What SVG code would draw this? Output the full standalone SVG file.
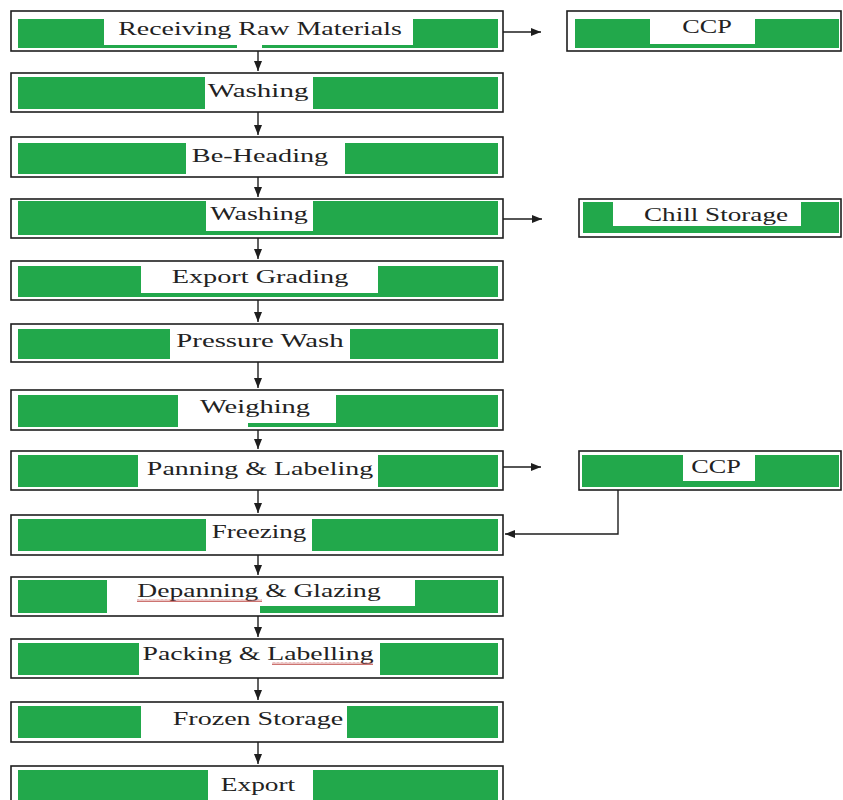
<svg xmlns="http://www.w3.org/2000/svg" width="843" height="800" viewBox="0 0 843 800">
  <defs>
    <style>
      .box { fill: #ffffff; stroke: #1e1e1e; stroke-width: 1.6; }
      .g { fill: #22a84b; }
      .w { fill: #ffffff; }
      .t { font-family: "Liberation Serif", "Times New Roman", serif; font-size: 18px; fill: #222222; text-anchor: middle; }
      .link { fill: none; stroke: #1e1e1e; stroke-width: 1.4; }
      .squig { fill: url(#squiggle); }
    </style>
    <marker id="arrow" markerUnits="userSpaceOnUse" markerWidth="10" markerHeight="8" refX="10" refY="4" orient="auto">
      <path d="M0,0 L10,4 L0,8 z" fill="#1e1e1e"/>
    </marker>
    <pattern id="squiggle" patternUnits="userSpaceOnUse" width="4" height="3">
      <polyline points="0,2.5 1,0.5 2,2.5 3,0.5 4,2.5" fill="none" stroke="#c0504d" stroke-width="0.8"/>
    </pattern>
  </defs>

  <!-- main process column; labels are widened with a horizontal scale -->
  <g id="receiving">
    <rect class="box" x="11" y="11" width="492" height="40"/>
    <rect class="g" x="18" y="19" width="480" height="29"/>
    <rect class="w" x="104" y="19" width="309" height="26"/>
    <rect class="w" x="237" y="45" width="25" height="4"/>
    <text class="t" transform="translate(260,35) scale(1.55,1)" textLength="183" lengthAdjust="spacingAndGlyphs">Receiving Raw Materials</text>
  </g>
  <g id="washing1">
    <rect class="box" x="11" y="73" width="492" height="39"/>
    <rect class="g" x="18" y="77" width="480" height="32"/>
    <rect class="w" x="205" y="77" width="108" height="32"/>
    <text class="t" transform="translate(258,97) scale(1.55,1)" textLength="65" lengthAdjust="spacingAndGlyphs">Washing</text>
  </g>
  <g id="beheading">
    <rect class="box" x="11" y="137" width="492" height="40"/>
    <rect class="g" x="18" y="143" width="480" height="31"/>
    <rect class="w" x="186" y="143" width="159" height="31"/>
    <text class="t" transform="translate(260,162) scale(1.55,1)" textLength="88" lengthAdjust="spacingAndGlyphs">Be-Heading</text>
  </g>
  <g id="washing2">
    <rect class="box" x="11" y="199" width="492" height="39"/>
    <rect class="g" x="18" y="201" width="480" height="34"/>
    <rect class="w" x="206" y="201" width="107" height="30"/>
    <text class="t" transform="translate(259,220) scale(1.55,1)" textLength="63" lengthAdjust="spacingAndGlyphs">Washing</text>
  </g>
  <g id="grading">
    <rect class="box" x="11" y="261" width="492" height="39"/>
    <rect class="g" x="18" y="266" width="480" height="31"/>
    <rect class="w" x="141" y="266" width="237" height="27"/>
    <text class="t" transform="translate(260,283) scale(1.55,1)" textLength="114" lengthAdjust="spacingAndGlyphs">Export Grading</text>
  </g>
  <g id="pressure-wash">
    <rect class="box" x="11" y="324" width="492" height="38"/>
    <rect class="g" x="18" y="329" width="480" height="30"/>
    <rect class="w" x="170" y="329" width="180" height="30"/>
    <text class="t" transform="translate(260,347) scale(1.55,1)" textLength="108" lengthAdjust="spacingAndGlyphs">Pressure Wash</text>
  </g>
  <g id="weighing">
    <rect class="box" x="11" y="390" width="492" height="40"/>
    <rect class="g" x="18" y="395" width="480" height="32"/>
    <rect class="w" x="178" y="395" width="158" height="28"/>
    <rect class="w" x="178" y="423" width="70" height="4"/>
    <text class="t" transform="translate(255,413) scale(1.55,1)" textLength="71" lengthAdjust="spacingAndGlyphs">Weighing</text>
  </g>
  <g id="panning">
    <rect class="box" x="11" y="451" width="492" height="39"/>
    <rect class="g" x="18" y="455" width="480" height="32"/>
    <rect class="w" x="138" y="455" width="240" height="32"/>
    <text class="t" transform="translate(260,475) scale(1.55,1)" textLength="146" lengthAdjust="spacingAndGlyphs">Panning &amp; Labeling</text>
  </g>
  <g id="freezing">
    <rect class="box" x="11" y="515" width="492" height="40"/>
    <rect class="g" x="18" y="519" width="480" height="32"/>
    <rect class="w" x="206" y="519" width="106" height="32"/>
    <text class="t" transform="translate(259,538) scale(1.55,1)" textLength="61" lengthAdjust="spacingAndGlyphs">Freezing</text>
  </g>
  <g id="depanning">
    <rect class="box" x="11" y="577" width="492" height="39"/>
    <rect class="g" x="18" y="580" width="480" height="33"/>
    <rect class="w" x="107" y="580" width="308" height="26"/>
    <rect class="w" x="107" y="606" width="153" height="7"/>
    <text class="t" transform="translate(259,597) scale(1.55,1)" textLength="157" lengthAdjust="spacingAndGlyphs">Depanning &amp; Glazing</text>
    <rect class="squig" x="137" y="599" width="125" height="3"/>
  </g>
  <g id="packing">
    <rect class="box" x="11" y="639" width="492" height="39"/>
    <rect class="g" x="18" y="643" width="480" height="32"/>
    <rect class="w" x="139" y="643" width="241" height="32"/>
    <text class="t" transform="translate(258,660) scale(1.55,1)" textLength="149" lengthAdjust="spacingAndGlyphs">Packing &amp; Labelling</text>
    <rect class="squig" x="272" y="662" width="101" height="3"/>
  </g>
  <g id="frozen-storage">
    <rect class="box" x="11" y="702" width="492" height="40"/>
    <rect class="g" x="18" y="706" width="480" height="32"/>
    <rect class="w" x="141" y="706" width="206" height="32"/>
    <text class="t" transform="translate(258,725) scale(1.55,1)" textLength="110" lengthAdjust="spacingAndGlyphs">Frozen Storage</text>
  </g>
  <g id="export">
    <rect class="box" x="11" y="766" width="492" height="40"/>
    <rect class="g" x="18" y="770" width="480" height="32"/>
    <rect class="w" x="208" y="770" width="105" height="32"/>
    <text class="t" transform="translate(258,791) scale(1.55,1)" textLength="48" lengthAdjust="spacingAndGlyphs">Export</text>
  </g>

  <!-- side boxes -->
  <g id="ccp1">
    <rect class="box" x="567" y="11" width="274" height="40"/>
    <rect class="g" x="575" y="19" width="264" height="29"/>
    <rect class="w" x="650" y="19" width="105" height="25"/>
    <text class="t" transform="translate(707,33) scale(1.55,1)" textLength="32" lengthAdjust="spacingAndGlyphs">CCP</text>
  </g>
  <g id="chill-storage">
    <rect class="box" x="579" y="199" width="262" height="38"/>
    <rect class="g" x="583" y="202" width="256" height="31"/>
    <rect class="w" x="613" y="202" width="188" height="24"/>
    <text class="t" transform="translate(716,221) scale(1.55,1)" textLength="93" lengthAdjust="spacingAndGlyphs">Chill Storage</text>
  </g>
  <g id="ccp2">
    <rect class="box" x="579" y="451" width="262" height="39"/>
    <rect class="g" x="582" y="455" width="257" height="32"/>
    <rect class="w" x="683" y="455" width="72" height="26"/>
    <text class="t" transform="translate(716,473) scale(1.55,1)" textLength="32" lengthAdjust="spacingAndGlyphs">CCP</text>
  </g>

  <!-- connectors -->
  <g id="connectors">
    <path class="link" marker-end="url(#arrow)" d="M258,51 V71"/>
    <path class="link" marker-end="url(#arrow)" d="M258,112 V135"/>
    <path class="link" marker-end="url(#arrow)" d="M258,177 V197"/>
    <path class="link" marker-end="url(#arrow)" d="M258,238 V259"/>
    <path class="link" marker-end="url(#arrow)" d="M258,300 V322"/>
    <path class="link" marker-end="url(#arrow)" d="M258,362 V388"/>
    <path class="link" marker-end="url(#arrow)" d="M258,430 V449"/>
    <path class="link" marker-end="url(#arrow)" d="M258,490 V513"/>
    <path class="link" marker-end="url(#arrow)" d="M258,555 V575"/>
    <path class="link" marker-end="url(#arrow)" d="M258,616 V637"/>
    <path class="link" marker-end="url(#arrow)" d="M258,678 V700"/>
    <path class="link" marker-end="url(#arrow)" d="M258,742 V764"/>
    <path class="link" marker-end="url(#arrow)" d="M503,32 H541"/>
    <path class="link" marker-end="url(#arrow)" d="M503,219 H542"/>
    <path class="link" marker-end="url(#arrow)" d="M503,467 H541"/>
    <path class="link" marker-end="url(#arrow)" d="M618,490 V534 H505"/>
  </g>
</svg>
